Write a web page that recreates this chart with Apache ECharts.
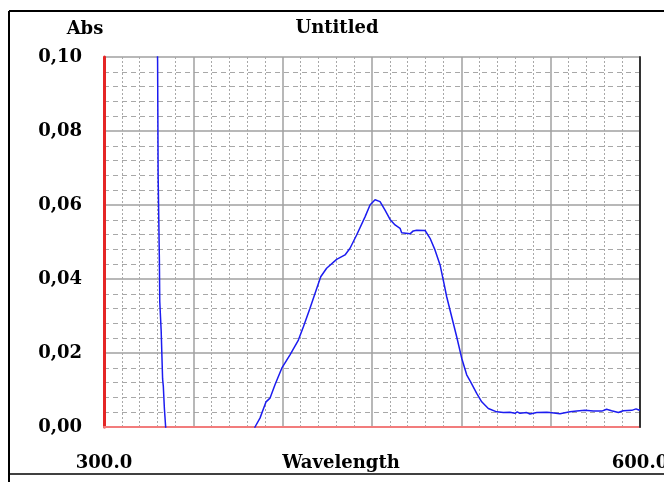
<!DOCTYPE html>
<html>
<head>
<meta charset="utf-8">
<script src="https://cdn.jsdelivr.net/npm/echarts@6/dist/echarts.min.js"></script>
<style>
  html, body { margin: 0; padding: 0; background: #fff; }
  #chart { width: 664px; height: 482px; }
</style>
</head>
<body>
<div id="chart"></div>
<script>
// Absorbance spectrum, 300-600 nm
const chartTitle = 'Untitled';
const yAxisTitle = 'Abs';
const xAxisTitle = 'Wavelength';
const xTickValues = [300, 600];
const xTickLabels = ['300.0', '600.0'];

// Sharp cut-off edge near 330 nm
const edgeWavelength = [329.4, 330.0, 330.3, 331.0, 331.2, 332.0, 332.8, 333.2, 333.8, 334.5, 335.2];
const edgeAbs = [0.115, 0.099, 0.068, 0.045, 0.034, 0.026, 0.013, 0.011, 0.005, 0.000, -0.006];

// Main absorption band
const bandWavelength = [
  383.5, 384.5, 387.3, 390.7, 392.9, 395.7, 399.5, 404.1, 408.8, 411.6, 415.3,
  418.1, 421.3, 424.6, 430.2, 434.9, 437.7, 441.4, 446.1, 448.9, 451.7, 454.5,
  457.3, 460.1, 462.9, 465.7, 466.6, 471.3, 473.1, 475.0, 479.7, 482.5, 485.3,
  488.1, 489.9, 491.8, 494.6, 497.4, 500.2, 503.0, 505.2, 508.6, 511.4, 515.1,
  519.8, 523.5, 527.2, 530.0, 531.3, 532.8, 536.6, 538.4, 542.2, 547.8, 549.6,
  555.2, 560.8, 564.6, 569.2, 573.9, 578.6, 581.3, 584.1, 587.9, 590.6, 595.4,
  597.8, 599.3, 600.0
];
const bandAbs = [
  -0.003, 0.000, 0.0024, 0.0068, 0.0078, 0.0114, 0.0159, 0.0195, 0.0235, 0.0271, 0.0321,
  0.0361, 0.0406, 0.0429, 0.0453, 0.0465, 0.0483, 0.0519, 0.0568, 0.0600, 0.0614, 0.0609,
  0.0586, 0.0561, 0.0546, 0.0537, 0.0525, 0.0522, 0.0530, 0.0532, 0.0531, 0.0510, 0.0478,
  0.0438, 0.0397, 0.0352, 0.0298, 0.0244, 0.0186, 0.0141, 0.0122, 0.0091, 0.0068, 0.0050,
  0.0041, 0.0039, 0.0040, 0.0037, 0.0041, 0.0037, 0.0039, 0.0035, 0.0039, 0.0040, 0.0039,
  0.0036, 0.0041, 0.0043, 0.0045, 0.0043, 0.0043, 0.0048, 0.0044, 0.0039, 0.0044, 0.0045,
  0.0049, 0.0046, 0.0047
];

const seriesData = [];
edgeWavelength.forEach((w, i) => seriesData.push([w, edgeAbs[i]]));
seriesData.push([360, '-']);
bandWavelength.forEach((w, i) => seriesData.push([w, bandAbs[i]]));

const labelFont = {
  fontFamily: 'DejaVu Serif',
  fontWeight: 'bold',
  fontSize: 18,
  color: '#000'
};

const chart = echarts.init(document.getElementById('chart'), null, { renderer: 'canvas' });

chart.setOption({
  animation: false,
  backgroundColor: '#fff',
  title: {
    text: chartTitle,
    left: 332,
    top: 14,
    textAlign: 'center',
    textStyle: Object.assign({}, labelFont)
  },
  grid: { left: 104, right: 24, top: 57, bottom: 55, containLabel: false, outerBoundsMode: 'none' },
  xAxis: [{
    type: 'value',
    z: 2,
    min: 300,
    max: 600,
    interval: 50,
    name: xAxisTitle,
    nameLocation: 'middle',
    nameGap: 27,
    nameMoveOverlap: false,
    nameTextStyle: Object.assign({ padding: [0, 62, 0, 0] }, labelFont),
    axisLine: { show: true, onZero: false, lineStyle: { color: '#f27c7c', width: 2 } },
    axisTick: { show: false },
    minorTick: { show: false, splitNumber: 5 },
    axisLabel: Object.assign({
      margin: 27,
      showMinLabel: true,
      showMaxLabel: true,
      formatter: v => {
        const i = xTickValues.indexOf(v);
        return i >= 0 ? xTickLabels[i] : '';
      }
    }, labelFont),
    splitLine: { show: true, showMinLine: false, showMaxLine: false, lineStyle: { color: '#a0a0a0', width: 1.5 } },
    minorSplitLine: { show: true, lineStyle: { color: '#a8a8a8', width: 1, type: [2, 2] } }
  }, {
    type: 'value',
    position: 'top',
    min: 300,
    max: 600,
    axisLine: { show: true, lineStyle: { color: '#a0a0a0', width: 2 } },
    axisTick: { show: false },
    axisLabel: { show: false },
    splitLine: { show: false }
  }],
  yAxis: [{
    type: 'value',
    z: 1,
    min: 0,
    max: 0.1,
    interval: 0.02,
    name: yAxisTitle,
    nameLocation: 'end',
    nameGap: 19,
    nameMoveOverlap: false,
    nameTextStyle: Object.assign({ padding: [0, 38, 0, 0] }, labelFont),
    axisLine: { show: true, onZero: false, lineStyle: { color: '#e42626', width: 3 } },
    axisTick: { show: false },
    minorTick: { show: false, splitNumber: 5 },
    axisLabel: Object.assign({
      margin: 22,
      formatter: v => v.toFixed(2).replace('.', ',')
    }, labelFont),
    splitLine: { show: true, showMinLine: false, showMaxLine: true, lineStyle: { color: '#a0a0a0', width: 1.5 } },
    minorSplitLine: { show: true, lineStyle: { color: '#a8a8a8', width: 1, type: [5, 4] } }
  }, {
    type: 'value',
    position: 'right',
    z: 3,
    min: 0,
    max: 0.1,
    axisLine: { show: true, lineStyle: { color: '#333', width: 2 } },
    axisTick: { show: false },
    axisLabel: { show: false },
    splitLine: { show: false }
  }],
  series: [{
    type: 'line',
    data: seriesData,
    showSymbol: false,
    symbol: 'none',
    clip: true,
    connectNulls: false,
    lineStyle: { color: '#1c1cf0', width: 1.5 },
    z: 4
  }],
  graphic: [
    { type: 'line', shape: { x1: 9, y1: 11, x2: 664, y2: 11 }, style: { stroke: '#000', lineWidth: 2 } },
    { type: 'line', shape: { x1: 9, y1: 11, x2: 9, y2: 482 }, style: { stroke: '#000', lineWidth: 2 } },
    { type: 'line', shape: { x1: 9, y1: 474, x2: 664, y2: 474 }, style: { stroke: '#000', lineWidth: 1.5 } }
  ]
});
</script>
</body>
</html>
